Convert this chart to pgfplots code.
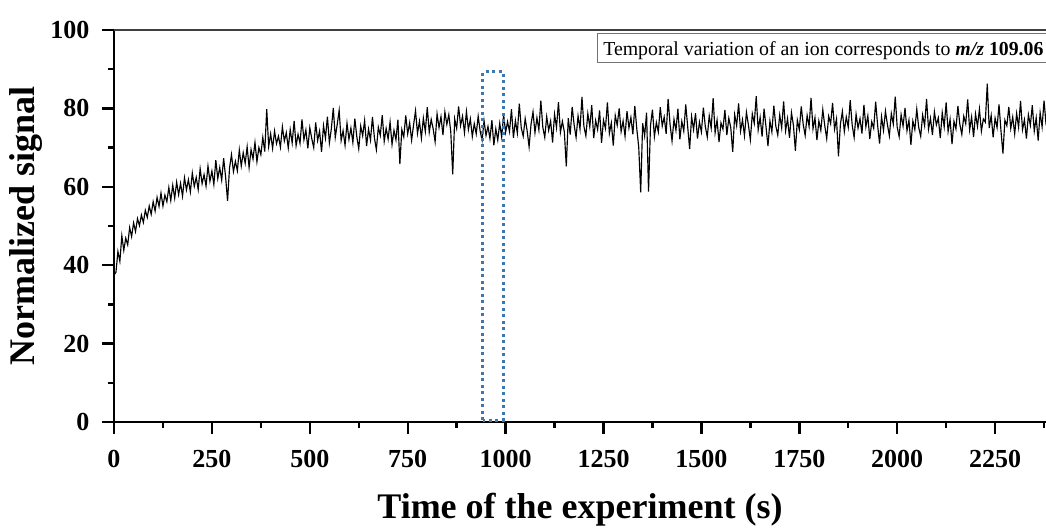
\documentclass[border=0pt]{standalone}
\usepackage{pgfplots}
\pgfplotsset{compat=1.18}
\usepackage{fontspec}
\setmainfont{Liberation Serif}
\definecolor{dotblue}{RGB}{60,120,175}
\begin{document}
\begin{tikzpicture}
\begin{axis}[
  scale only axis, width=932pt, height=392pt,
  xmin=0, xmax=2380, ymin=0, ymax=100,
  axis x line=bottom, axis y line=left,
  axis line style={-, line width=2.4pt, black},
  xtick={0,250,...,2250}, ytick={0,20,...,100},
  minor xtick={125,375,...,2375}, minor ytick={10,30,...,90},
  tick align=outside,
  major tick length=12pt, minor tick length=6pt,
  every tick/.style={black, line width=2.4pt},
  tick label style={font=\fontsize{26}{26}\selectfont\bfseries},
  xticklabel style={yshift=-13pt},
  yticklabel style={xshift=-9pt},
  /pgf/number format/assume math mode=true,
  /pgf/number format/1000 sep={},
  xlabel={Time of the experiment (s)},
  ylabel={Normalized signal},
  label style={font=\fontsize{36}{36}\selectfont\bfseries},
  xlabel style={at={(axis description cs:0.5,-0.245)}, anchor=base},
  ylabel style={at={(axis description cs:-0.0858,0.5)}, anchor=base},
]
\addplot[black, line width=1.15pt] table[row sep=\\] {
x y\\
0 37.5\\ 5 38.2\\ 10 43.5\\ 15 41.0\\ 20 47.5\\ 25 43.8\\ 30 46.9\\ 35 45.2\\ 40 49.6\\ 45 47.3\\
50 50.8\\ 55 48.6\\ 60 51.9\\ 65 50.1\\ 70 52.8\\ 75 50.9\\ 80 54.0\\ 85 52.2\\ 90 55.1\\ 95 53.0\\
100 56.2\\ 105 53.8\\ 110 57.3\\ 115 55.0\\ 120 58.4\\ 125 55.1\\ 130 57.9\\ 135 56.2\\ 140 59.8\\ 145 56.5\\
150 60.4\\ 155 57.1\\ 160 61.2\\ 165 58.0\\ 170 60.9\\ 175 57.6\\ 180 62.3\\ 185 59.2\\ 190 61.8\\ 195 58.7\\
200 63.5\\ 205 60.1\\ 210 62.4\\ 215 59.3\\ 220 64.6\\ 225 60.8\\ 230 63.1\\ 235 60.2\\ 240 65.3\\ 245 61.4\\
250 64.0\\ 255 60.6\\ 260 66.8\\ 265 62.1\\ 270 64.9\\ 275 61.7\\ 280 67.3\\ 285 62.5\\ 290 56.4\\ 295 64.8\\
300 68.2\\ 305 63.9\\ 310 66.5\\ 315 64.1\\ 320 69.4\\ 325 65.3\\ 330 68.7\\ 335 66.0\\ 340 70.2\\ 345 64.9\\
350 69.5\\ 355 67.1\\ 360 71.3\\ 365 66.4\\ 370 70.0\\ 375 68.2\\ 380 72.6\\ 385 69.0\\ 390 79.8\\ 395 70.3\\
400 73.5\\ 405 69.8\\ 410 74.2\\ 415 71.0\\ 420 72.9\\ 425 70.1\\ 430 75.3\\ 435 71.7\\ 440 73.8\\ 445 69.9\\
450 74.6\\ 455 71.2\\ 460 76.8\\ 465 70.5\\ 470 73.4\\ 475 71.1\\ 480 77.2\\ 485 72.0\\ 490 74.5\\ 495 69.8\\
500 75.1\\ 505 72.3\\ 510 70.0\\ 515 76.4\\ 520 71.8\\ 525 74.2\\ 530 68.9\\ 535 75.6\\ 540 72.4\\ 545 77.9\\
550 71.2\\ 555 74.8\\ 560 80.1\\ 565 72.6\\ 570 75.9\\ 575 79.5\\ 580 71.8\\ 585 74.3\\ 590 70.6\\ 595 76.2\\
600 72.1\\ 605 75.0\\ 610 71.3\\ 615 77.4\\ 620 72.8\\ 625 69.7\\ 630 75.5\\ 635 73.0\\ 640 76.9\\ 645 70.4\\
650 74.7\\ 655 71.9\\ 660 77.8\\ 665 72.5\\ 670 69.5\\ 675 75.2\\ 680 73.1\\ 685 78.3\\ 690 71.6\\ 695 74.9\\
700 72.2\\ 705 76.5\\ 710 70.8\\ 715 74.4\\ 720 72.0\\ 725 77.1\\ 730 65.8\\ 735 74.6\\ 740 72.7\\ 745 78.2\\
750 73.5\\ 755 76.3\\ 760 71.9\\ 765 75.8\\ 770 79.4\\ 775 73.6\\ 780 76.7\\ 785 72.4\\ 790 77.5\\ 795 74.1\\
800 80.3\\ 805 73.9\\ 810 77.2\\ 815 74.8\\ 820 71.5\\ 825 78.6\\ 830 75.1\\ 835 77.9\\ 840 73.2\\ 845 79.1\\
850 75.9\\ 855 78.4\\ 860 74.0\\ 865 63.2\\ 870 77.3\\ 875 74.9\\ 880 80.5\\ 885 75.6\\ 890 78.0\\ 895 73.8\\
900 79.2\\ 905 74.6\\ 910 77.3\\ 915 72.8\\ 920 76.1\\ 925 73.5\\ 930 78.0\\ 935 74.2\\ 940 71.9\\ 945 76.8\\
950 73.1\\ 955 75.4\\ 960 72.3\\ 965 77.0\\ 970 70.6\\ 975 74.8\\ 980 71.9\\ 985 76.2\\ 990 72.7\\ 995 78.4\\
1000 73.9\\ 1005 76.6\\ 1010 74.1\\ 1015 79.8\\ 1020 72.5\\ 1025 76.9\\ 1030 73.7\\ 1035 81.2\\ 1040 75.0\\ 1045 72.9\\
1050 77.4\\ 1055 74.3\\ 1060 70.2\\ 1065 76.0\\ 1070 79.1\\ 1075 73.8\\ 1080 77.6\\ 1085 74.5\\ 1090 82.0\\ 1095 75.2\\
1100 72.6\\ 1105 77.9\\ 1110 74.4\\ 1115 76.8\\ 1120 71.3\\ 1125 78.5\\ 1130 75.1\\ 1135 81.6\\ 1140 73.9\\ 1145 76.7\\
1150 74.0\\ 1155 65.2\\ 1160 77.5\\ 1165 73.3\\ 1170 80.4\\ 1175 75.8\\ 1180 72.6\\ 1185 78.1\\ 1190 74.7\\ 1195 82.9\\
1200 75.4\\ 1205 73.0\\ 1210 78.7\\ 1215 75.3\\ 1220 80.8\\ 1225 72.4\\ 1230 76.9\\ 1235 74.6\\ 1240 79.5\\ 1245 71.2\\
1250 77.0\\ 1255 74.9\\ 1260 81.5\\ 1265 73.6\\ 1270 76.3\\ 1275 70.5\\ 1280 78.2\\ 1285 75.7\\ 1290 80.0\\ 1295 74.1\\
1300 76.8\\ 1305 72.9\\ 1310 79.3\\ 1315 75.0\\ 1320 77.7\\ 1325 73.4\\ 1330 80.6\\ 1335 74.8\\ 1340 70.1\\ 1345 58.6\\
1350 76.2\\ 1355 73.0\\ 1360 78.9\\ 1365 58.8\\ 1370 75.6\\ 1375 79.7\\ 1380 72.8\\ 1385 76.4\\ 1390 74.0\\ 1395 80.3\\
1400 75.5\\ 1405 77.8\\ 1410 73.5\\ 1415 82.4\\ 1420 75.9\\ 1425 71.7\\ 1430 77.2\\ 1435 74.4\\ 1440 79.9\\ 1445 72.1\\
1450 76.7\\ 1455 74.2\\ 1460 81.0\\ 1465 75.3\\ 1470 69.6\\ 1475 77.9\\ 1480 74.6\\ 1485 78.8\\ 1490 72.3\\ 1495 76.5\\
1500 74.0\\ 1505 80.2\\ 1510 75.4\\ 1515 72.7\\ 1520 78.1\\ 1525 75.0\\ 1530 82.6\\ 1535 73.8\\ 1540 77.0\\ 1545 71.4\\
1550 76.3\\ 1555 74.7\\ 1560 79.6\\ 1565 73.2\\ 1570 77.5\\ 1575 75.1\\ 1580 68.9\\ 1585 78.4\\ 1590 75.6\\ 1595 81.3\\
1600 74.2\\ 1605 77.1\\ 1610 73.0\\ 1615 79.0\\ 1620 75.8\\ 1625 72.0\\ 1630 78.6\\ 1635 76.2\\ 1640 83.1\\ 1645 74.5\\
1650 77.7\\ 1655 72.8\\ 1660 79.9\\ 1665 75.3\\ 1670 70.4\\ 1675 76.8\\ 1680 74.0\\ 1685 80.7\\ 1690 75.5\\ 1695 73.2\\
1700 78.3\\ 1705 75.0\\ 1710 81.8\\ 1715 74.3\\ 1720 77.4\\ 1725 72.5\\ 1730 78.9\\ 1735 75.7\\ 1740 69.2\\ 1745 77.0\\
1750 74.6\\ 1755 80.5\\ 1760 75.9\\ 1765 73.1\\ 1770 78.2\\ 1775 75.4\\ 1780 82.7\\ 1785 74.8\\ 1790 77.6\\ 1795 71.9\\
1800 76.8\\ 1805 74.4\\ 1810 79.7\\ 1815 75.6\\ 1820 72.3\\ 1825 78.0\\ 1830 76.1\\ 1835 81.4\\ 1840 74.7\\ 1845 77.3\\
1850 67.8\\ 1855 76.0\\ 1860 79.2\\ 1865 74.1\\ 1870 77.8\\ 1875 75.2\\ 1880 82.1\\ 1885 75.8\\ 1890 72.6\\ 1895 78.5\\
1900 75.0\\ 1905 77.4\\ 1910 73.6\\ 1915 80.9\\ 1920 75.3\\ 1925 78.1\\ 1930 72.2\\ 1935 76.6\\ 1940 74.9\\ 1945 81.7\\
1950 75.7\\ 1955 71.0\\ 1960 77.9\\ 1965 74.4\\ 1970 79.3\\ 1975 75.9\\ 1980 73.0\\ 1985 78.7\\ 1990 76.0\\ 1995 83.0\\
2000 75.2\\ 2005 72.8\\ 2010 78.4\\ 2015 75.5\\ 2020 80.1\\ 2025 74.3\\ 2030 77.0\\ 2035 70.7\\ 2040 76.8\\ 2045 74.6\\
2050 79.8\\ 2055 75.1\\ 2060 72.9\\ 2065 78.3\\ 2070 75.6\\ 2075 82.4\\ 2080 74.7\\ 2085 77.5\\ 2090 73.2\\ 2095 79.1\\
2100 75.8\\ 2105 77.6\\ 2110 72.4\\ 2115 78.9\\ 2120 75.3\\ 2125 81.5\\ 2130 74.1\\ 2135 77.2\\ 2140 70.9\\ 2145 76.7\\
2150 74.8\\ 2155 80.6\\ 2160 75.9\\ 2165 73.4\\ 2170 78.0\\ 2175 76.1\\ 2180 82.3\\ 2185 74.5\\ 2190 77.8\\ 2195 72.7\\
2200 78.6\\ 2205 75.4\\ 2210 79.8\\ 2215 74.2\\ 2220 77.3\\ 2225 76.5\\ 2230 86.3\\ 2235 75.0\\ 2240 78.2\\ 2245 72.6\\
2250 77.5\\ 2255 75.1\\ 2260 81.0\\ 2265 74.3\\ 2270 68.5\\ 2275 77.0\\ 2280 75.6\\ 2285 80.4\\ 2290 74.9\\ 2295 77.8\\
2300 73.5\\ 2305 78.7\\ 2310 75.2\\ 2315 81.9\\ 2320 74.6\\ 2325 77.1\\ 2330 72.3\\ 2335 78.4\\ 2340 75.7\\ 2345 80.8\\
2350 74.2\\ 2355 77.6\\ 2360 71.8\\ 2365 78.9\\ 2370 75.3\\ 2375 82.0\\ 2380 76.1\\ 2385 73.9\\
};
\draw[dotblue, line width=3pt, dash pattern=on 3pt off 3.5pt] (axis cs:942,0.5) rectangle (axis cs:994,89.3);
\draw[black!55, line width=1pt] (axis cs:1234,91.6) rectangle (axis cs:2450,99.0);
\node[anchor=base west, inner sep=0pt, font=\fontsize{19.8}{19.8}\selectfont] at (axis cs:1249,93.6)
  {Temporal variation of an ion corresponds to \textbf{\textit{m/z}} \textbf{109.06}};
\end{axis}
\draw[black!75, line width=1.6pt] (current axis.north west) -- (current axis.north east);
\pgfresetboundingbox
\path[use as bounding box] ([xshift=-114pt,yshift=-107pt]current axis.south west) rectangle ([yshift=30pt]current axis.north east);
\end{tikzpicture}
\end{document}
